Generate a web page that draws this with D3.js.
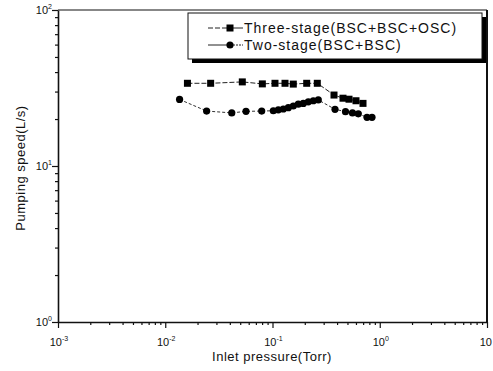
<!DOCTYPE html>
<html>
<head>
<meta charset="utf-8">
<script src="https://cdn.jsdelivr.net/npm/d3@7"></script>
<style>
  body { margin: 0; background: #fff; }
  svg { display: block; }
  text { font-family: "Liberation Sans", Arial, sans-serif; fill: #111; }
</style>
</head>
<body>
<div id="chart"></div>
<script>
// inlet pressure (Torr) and pumping speed (L/s)
var threeStageP = [0.0161, 0.0265, 0.0523, 0.0804, 0.1055, 0.1308, 0.1563, 0.2084, 0.2617,
                   0.3745, 0.4543, 0.5169, 0.6005, 0.698];
var threeStageS = [33.9, 33.9, 34.6, 33.6, 33.9, 33.9, 33.5, 33.9, 33.9,
                   28.5, 27.2, 26.8, 26.2, 25.2];

var twoStageP = [0.0136, 0.0243, 0.0417, 0.0566, 0.0793, 0.1018, 0.1133, 0.1261, 0.1404,
                 0.1563, 0.174, 0.1937, 0.2157, 0.2401, 0.2673, 0.3827, 0.4793, 0.5568,
                 0.631, 0.7606, 0.8467];
var twoStageS = [26.7, 22.5, 21.9, 22.4, 22.5, 22.6, 22.9, 23.2, 23.65,
                 24.25, 24.9, 25.2, 25.8, 26.2, 26.5, 23.1, 22.3, 21.9,
                 21.6, 20.5, 20.5];

var seriesNames = ["Three-stage(BSC+BSC+OSC)", "Two-stage(BSC+BSC)"];
var xMajor = [-3, -2, -1, 0, 1];   // exponents of the x tick labels
var yMajor = [0, 1, 2];            // exponents of the y tick labels

var width = 493, height = 371;
var m = { left: 58, right: 487, top: 10, bottom: 322 };

var svg = d3.select("#chart").append("svg")
  .attr("width", width)
  .attr("height", height);

var x = d3.scaleLog().domain([1e-3, 10]).range([m.left, m.right]);
var y = d3.scaleLog().domain([1, 100]).range([m.bottom, m.top]);

// every decade tick plus the minor ones
function logTicks(lo, hi) {
  var t = [];
  for (var d = lo; d < hi; d++) {
    for (var k = 1; k <= 9; k++) t.push(k * Math.pow(10, d));
  }
  t.push(Math.pow(10, hi));
  return t;
}
function isMajor(v) {
  var l = Math.log10(v);
  return Math.abs(l - Math.round(l)) < 1e-9;
}

// frame (top and right)
svg.append("line").attr("x1", m.left).attr("x2", m.right).attr("y1", m.top).attr("y2", m.top)
  .attr("stroke", "#111").attr("stroke-width", 1.2);
svg.append("line").attr("x1", m.right).attr("x2", m.right).attr("y1", m.top).attr("y2", m.bottom)
  .attr("stroke", "#111").attr("stroke-width", 2);

// bottom axis
var gx = svg.append("g")
  .attr("transform", "translate(0," + m.bottom + ")")
  .call(d3.axisBottom(x).tickValues(logTicks(-3, 1)).tickSize(3).tickSizeOuter(0).tickFormat(""));
gx.selectAll(".tick line").filter(function(d) { return isMajor(d); }).attr("y2", 6);

// left axis
var gy = svg.append("g")
  .attr("transform", "translate(" + m.left + ",0)")
  .call(d3.axisLeft(y).tickValues(logTicks(0, 2)).tickSize(3).tickSizeOuter(0).tickFormat(""));
gy.selectAll(".tick line").filter(function(d) { return isMajor(d); }).attr("x2", -6);

svg.selectAll(".domain").attr("stroke", "#111").attr("stroke-width", 1.6);
svg.selectAll(".tick line").attr("stroke", "#111").attr("stroke-width", 1.2);

// tick labels with superscript exponents
xMajor.forEach(function(e) {
  var t = svg.append("text")
    .attr("y", 346)
    .style("font-size", "11px");
  if (e === 1) {
    // last label sits at the right edge, only "10" shows there
    t.attr("x", 492).attr("text-anchor", "end").text("10");
    return;
  }
  t.attr("x", x(Math.pow(10, e)) + 1).attr("text-anchor", "middle");
  t.append("tspan").text("10");
  t.append("tspan").attr("dy", -5).style("font-size", "7px").text(e);
});
yMajor.forEach(function(e) {
  var t = svg.append("text")
    .attr("x", 52)
    .attr("y", y(Math.pow(10, e)) + 4)
    .attr("text-anchor", "end")
    .style("font-size", "11px");
  t.append("tspan").text("10");
  t.append("tspan").attr("dy", -5).style("font-size", "7px").text(e);
});

// axis titles
svg.append("text")
  .attr("x", 272).attr("y", 361)
  .attr("text-anchor", "middle")
  .style("font-size", "13px")
  .style("letter-spacing", "0.5px")
  .text("Inlet pressure(Torr)");
svg.append("text")
  .attr("transform", "translate(25,168) rotate(-90)")
  .attr("text-anchor", "middle")
  .style("font-size", "13px")
  .style("letter-spacing", "0.5px")
  .text("Pumping speed(L/s)");

// series
var three = threeStageP.map(function(p, i) { return { p: p, s: threeStageS[i] }; });
var two = twoStageP.map(function(p, i) { return { p: p, s: twoStageS[i] }; });

var line = d3.line()
  .x(function(d) { return x(d.p); })
  .y(function(d) { return y(d.s); });

svg.append("path").datum(three)
  .attr("d", line)
  .attr("fill", "none")
  .attr("stroke", "#222")
  .attr("stroke-width", 1)
  .attr("stroke-dasharray", "5,2");

svg.append("path").datum(two)
  .attr("d", line)
  .attr("fill", "none")
  .attr("stroke", "#333")
  .attr("stroke-width", 1)
  .attr("stroke-dasharray", "3,2");

svg.selectAll(".sq").data(three).enter().append("rect")
  .attr("class", "sq")
  .attr("x", function(d) { return x(d.p) - 3.5; })
  .attr("y", function(d) { return y(d.s) - 3.5; })
  .attr("width", 7).attr("height", 7)
  .attr("fill", "#000");

svg.selectAll(".dot").data(two).enter().append("circle")
  .attr("class", "dot")
  .attr("cx", function(d) { return x(d.p); })
  .attr("cy", function(d) { return y(d.s); })
  .attr("r", 3.6)
  .attr("fill", "#000");

// legend with drop shadow
var lg = svg.append("g");
lg.append("rect").attr("x", 192).attr("y", 17).attr("width", 294).attr("height", 46).attr("fill", "#000");
lg.append("rect").attr("x", 188).attr("y", 13).attr("width", 294).attr("height", 46)
  .attr("fill", "#fff").attr("stroke", "#111").attr("stroke-width", 1);

var rows = [28, 45];
// square entry: dashed lead in, solid tail
lg.append("line").attr("x1", 208).attr("x2", 227).attr("y1", rows[0]).attr("y2", rows[0])
  .attr("stroke", "#222").attr("stroke-dasharray", "5,2");
lg.append("line").attr("x1", 233).attr("x2", 243).attr("y1", rows[0]).attr("y2", rows[0])
  .attr("stroke", "#222");
lg.append("rect").attr("x", 226.5).attr("y", rows[0] - 3.5).attr("width", 7).attr("height", 7).attr("fill", "#000");
// circle entry: solid lead in, dotted tail
lg.append("line").attr("x1", 208).attr("x2", 227).attr("y1", rows[1]).attr("y2", rows[1])
  .attr("stroke", "#222");
lg.append("line").attr("x1", 233).attr("x2", 243).attr("y1", rows[1]).attr("y2", rows[1])
  .attr("stroke", "#222").attr("stroke-dasharray", "2,1");
lg.append("circle").attr("cx", 230).attr("cy", rows[1]).attr("r", 3.6).attr("fill", "#000");

seriesNames.forEach(function(n, i) {
  lg.append("text")
    .attr("x", 244).attr("y", rows[i] + 5)
    .style("font-size", "14px")
    .style("letter-spacing", "1px")
    .text(n);
});
</script>
</body>
</html>
